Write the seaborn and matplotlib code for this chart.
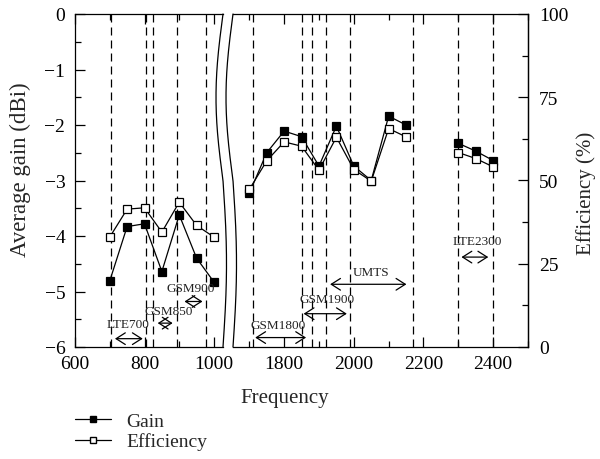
import numpy as np
import pandas as pd
import matplotlib
matplotlib.use("Agg")
import matplotlib.pyplot as plt
import seaborn as sns
from matplotlib.lines import Line2D
from matplotlib.ticker import MultipleLocator

# ---------------- data ----------------
freq_low = [700, 750, 800, 850, 900, 950, 1000]
gain_low = [-4.81, -3.83, -3.78, -4.64, -3.62, -4.40, -4.83]
eff_low = [33.0, 41.4, 41.8, 34.5, 43.5, 36.5, 33.0]

freq_mid = [1700, 1750, 1800, 1850, 1900, 1950, 2000, 2050, 2100, 2150]
gain_mid = [-3.23, -2.50, -2.11, -2.21, -2.74, -2.02, -2.74, -3.00, -1.84, -2.00]
eff_mid = [47.3, 55.9, 61.6, 60.3, 53.1, 63.0, 53.3, 49.8, 65.6, 63.1]

freq_high = [2300, 2350, 2400]
gain_high = [-2.33, -2.47, -2.64]
eff_high = [58.4, 56.6, 54.1]

band_edges = [704, 804, 824, 894, 976, 1710, 1850, 1880, 1920, 1990, 2170, 2300, 2400]

band_names = ["LTE700", "GSM850", "GSM900", "GSM1800", "GSM1900", "UMTS", "LTE2300"]
band_arrow_start = [715, 838, 915, 1717, 1856, 1932, 2309]
band_arrow_end = [795, 881, 967, 1863, 1980, 2151, 2386]
band_arrow_y = [-5.85, -5.57, -5.18, -5.83, -5.40, -4.87, -4.38]
band_text_x = [752, 870, 934, 1783, 1923, 2049, 2355]
band_text_y = [-5.58, -5.36, -4.94, -5.60, -5.13, -4.65, -4.09]

# ---------------- style ----------------
sns.set_theme(style="ticks")
plt.rcParams["font.family"] = ["Liberation Serif", "DejaVu Serif"]
plt.rcParams["axes.linewidth"] = 0.9
plt.rcParams["axes.edgecolor"] = "black"
plt.rcParams["xtick.color"] = "black"
plt.rcParams["ytick.color"] = "black"

W, H = 600, 460
fig = plt.figure(figsize=(W / 100, H / 100), dpi=100)

top_px, bot_px = 15, 348
scale = 0.3475  # px per MHz
b = 1 - bot_px / H
h = (bot_px - top_px) / H

L_left, L_right = 75, 223
R_left, R_right = 233, 528
axL = fig.add_axes([L_left / W, b, (L_right - L_left) / W, h])
axR = fig.add_axes([R_left / W, b, (R_right - R_left) / W, h])
axL.set_xlim(600, 600 + (L_right - L_left) / scale)
axR.set_xlim(1800 - (284 - R_left) / scale, 2500)

twL = axL.twinx()
twR = axR.twinx()

for ax in (axL, axR):
    ax.set_ylim(-6, 0)
    ax.set_facecolor("white")
    ax.xaxis.set_major_locator(MultipleLocator(200))
    ax.xaxis.set_minor_locator(MultipleLocator(100))
    ax.tick_params(axis="x", which="both", direction="in", top=True, bottom=True,
                   labelsize=14, pad=6)
    ax.tick_params(axis="both", which="major", length=7, width=0.9)
    ax.tick_params(axis="both", which="minor", length=4, width=0.9)

axL.spines["right"].set_visible(False)
axR.spines["left"].set_visible(False)
axL.yaxis.set_major_locator(MultipleLocator(1))
axL.yaxis.set_minor_locator(MultipleLocator(0.5))
axL.tick_params(axis="y", which="both", direction="in", left=True, right=False,
                labelsize=14, pad=7)
axR.tick_params(axis="y", which="both", left=False, right=False, labelleft=False)

for tw in (twL, twR):
    tw.set_ylim(0, 100)
    tw.spines["left"].set_visible(False)
    tw.spines["top"].set_visible(False)
    tw.spines["bottom"].set_visible(False)
twL.spines["right"].set_visible(False)
twL.tick_params(axis="y", which="both", right=False, labelright=False)
twR.yaxis.set_major_locator(MultipleLocator(25))
twR.yaxis.set_minor_locator(MultipleLocator(12.5))
twR.tick_params(axis="y", which="both", direction="in", labelsize=14, pad=8)
twR.tick_params(axis="y", which="major", length=7, width=0.9)
twR.tick_params(axis="y", which="minor", length=4, width=0.9)

# band edge dashed lines
dash = (0, (6.4, 4.0))
for f in band_edges:
    ax = axL if f < 1400 else axR
    ax.axvline(f, color="black", lw=0.9, ls=dash, zorder=1)

# data
line_kw = dict(color="black", lw=0.9, marker="s", markersize=5.2,
               markeredgewidth=0.9, estimator=None, sort=False, legend=False)
for ax, tw, fx, g, e in [(axL, twL, freq_low, gain_low, eff_low),
                         (axR, twR, freq_mid, gain_mid, eff_mid),
                         (axR, twR, freq_high, gain_high, eff_high)]:
    sns.lineplot(x=fx, y=g, ax=ax, markerfacecolor="black", markeredgecolor="black",
                 zorder=3, **line_kw)
    sns.lineplot(x=fx, y=e, ax=tw, markerfacecolor="white", markeredgecolor="black",
                 zorder=3, **line_kw)

for ax in (axL, axR, twL, twR):
    ax.set_xlabel("")
    ax.set_ylabel("")

# band annotations
for name, xs, xe, ya, tx, ty in zip(band_names, band_arrow_start, band_arrow_end,
                                    band_arrow_y, band_text_x, band_text_y):
    ax = axL if xs < 1400 else axR
    ax.annotate("", xy=(xe, ya), xytext=(xs, ya),
                arrowprops=dict(arrowstyle="<->,head_length=0.55,head_width=0.35",
                                lw=0.9, color="black", shrinkA=0, shrinkB=0,
                                mutation_scale=12), zorder=4)
    ax.text(tx, ty, name, ha="center", va="center", fontsize=9.5, color="#222222",
            zorder=4)

# axis break curves
t = np.linspace(0, 1, 200)
amp = np.where(t < 0.5, 7.0, 3.5)
ys = top_px + t * (bot_px - top_px)
for x0 in (L_right, R_left):
    xs = x0 - amp * np.sin(2 * np.pi * t)
    fig.add_artist(Line2D(xs / W, 1 - ys / H, color="black", lw=0.9))

# labels
fig.text(20 / W, 1 - 170 / H, "Average gain (dBi)", rotation=90, ha="center",
         va="center", fontsize=16.5)
fig.text(586 / W, 1 - 193 / H, "Efficiency (%)", rotation=90, ha="center",
         va="center", fontsize=15)
fig.text(285 / W, 1 - 399 / H, "Frequency", ha="center", va="center", fontsize=15)

# legend
h_gain = Line2D([], [], color="black", lw=0.9, marker="s", markersize=4.2,
                markerfacecolor="black", markeredgecolor="black")
h_eff = Line2D([], [], color="black", lw=0.9, marker="s", markersize=4.2,
               markerfacecolor="white", markeredgecolor="black")
fig.legend([h_gain, h_eff], ["Gain", "Efficiency"], loc="upper left",
           bbox_to_anchor=(75 / W, 1 - 413 / H), frameon=False, fontsize=14,
           handlelength=1.85, handletextpad=0.8, borderpad=0, borderaxespad=0,
           labelspacing=0.15)

fig.savefig("out.png", dpi=100)
